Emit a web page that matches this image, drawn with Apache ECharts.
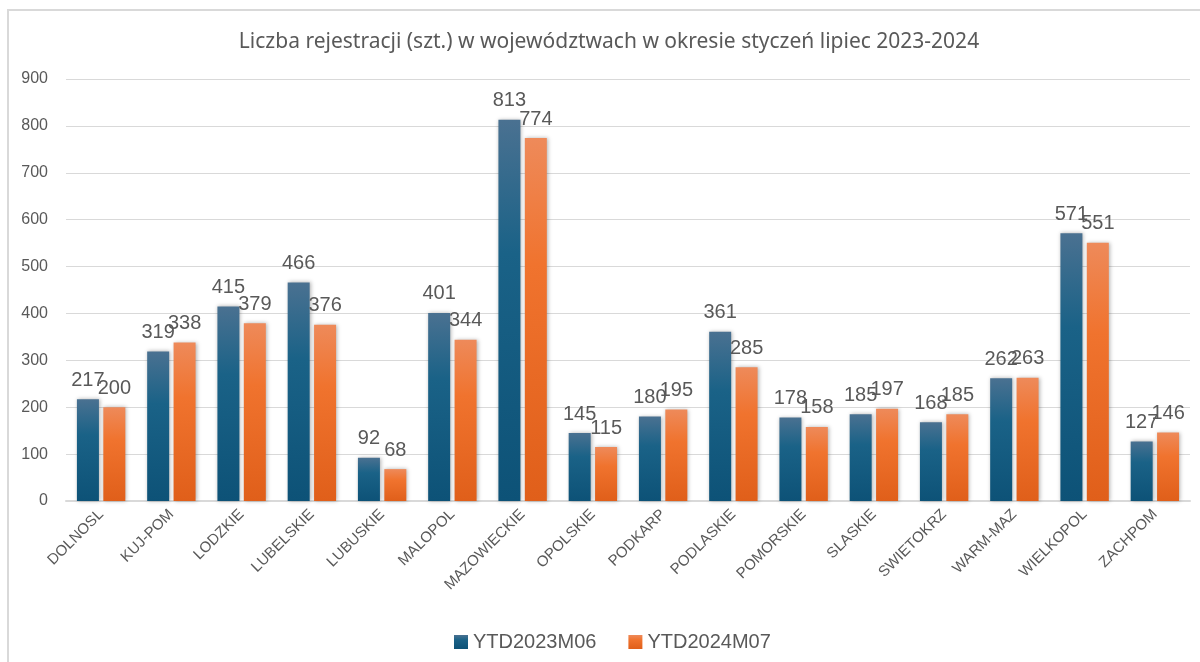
<!DOCTYPE html>
<html>
<head>
<meta charset="utf-8">
<script src="https://cdn.jsdelivr.net/npm/echarts@6/dist/echarts.min.js"></script>
<style>
  html, body { margin: 0; padding: 0; background: #fff; }
  #chart { width: 1200px; height: 662px; }
</style>
</head>
<body>
<div id="chart"></div>
<script>
// województwa
const categories = ['DOLNOSL', 'KUJ-POM', 'LODZKIE', 'LUBELSKIE', 'LUBUSKIE', 'MALOPOL', 'MAZOWIECKIE', 'OPOLSKIE',
  'PODKARP', 'PODLASKIE', 'POMORSKIE', 'SLASKIE', 'SWIETOKRZ', 'WARM-MAZ', 'WIELKOPOL', 'ZACHPOM'];
const ytd2023 = [217, 319, 415, 466, 92, 401, 813, 145, 180, 361, 178, 185, 168, 262, 571, 127];
const ytd2024 = [200, 338, 379, 376, 68, 344, 774, 115, 195, 285, 158, 197, 185, 263, 551, 146];
const seriesNames = ['YTD2023M06', 'YTD2024M07'];

const textColor = '#595959';

// gradient like the excel bars
const blueFill = new echarts.graphic.LinearGradient(0, 0, 0, 1, [
  { offset: 0, color: '#4a7191' },
  { offset: 0.35, color: '#1a6287' },
  { offset: 1, color: '#0d5277' }
]);
const orangeFill = new echarts.graphic.LinearGradient(0, 0, 0, 1, [
  { offset: 0, color: '#ee8a5a' },
  { offset: 0.35, color: '#f0732e' },
  { offset: 1, color: '#e05f1a' }
]);

const barLabel = {
  show: true,
  position: 'top',
  distance: 9,
  color: textColor,
  fontFamily: 'Liberation Sans',
  fontSize: 20
};

let mychart = echarts.init(document.getElementById('chart'));
mychart.setOption({
  animation: false,
  title: {
    text: 'Liczba rejestracji (szt.) w województwach w okresie styczeń lipiec 2023-2024',
    left: 604,
    textAlign: 'center',
    top: 27,
    textStyle: { color: textColor, fontFamily: 'Noto Sans', fontSize: 21, fontWeight: 'normal' }
  },
  graphic: [{
    type: 'rect',
    shape: { x: 8, y: 10, width: 1200, height: 660 },
    style: { fill: 'none', stroke: '#d9d9d9', lineWidth: 2 },
    silent: true
  }],
  legend: {
    data: seriesNames,
    left: 449,
    top: 627,
    itemWidth: 14,
    itemHeight: 14,
    itemGap: 32,
    icon: 'rect',
    textStyle: { color: textColor, fontFamily: 'Liberation Sans', fontSize: 20 }
  },
  grid: { left: 66, right: 10, top: 79, bottom: 161 },
  xAxis: {
    type: 'category',
    data: categories,
    axisTick: { show: false },
    axisLine: { lineStyle: { color: '#d9d9d9', width: 2 } },
    axisLabel: {
      rotate: 45,
      margin: 11,
      interval: 0,
      color: textColor,
      fontFamily: 'Liberation Sans',
      fontSize: 15
    }
  },
  yAxis: {
    type: 'value',
    min: 0,
    max: 900,
    interval: 100,
    axisLine: { show: false },
    axisTick: { show: false },
    splitLine: { lineStyle: { color: '#d9d9d9' } },
    axisLabel: { margin: 18, color: textColor, fontFamily: 'Liberation Sans', fontSize: 16 }
  },
  series: [
    {
      name: seriesNames[0],
      type: 'bar',
      data: ytd2023,
      barWidth: 22,
      barGap: '20%',
      itemStyle: { color: blueFill, shadowBlur: 4, shadowColor: 'rgba(0,0,0,0.3)', shadowOffsetX: 1 },
      label: barLabel
    },
    {
      name: seriesNames[1],
      type: 'bar',
      data: ytd2024,
      barWidth: 22,
      itemStyle: { color: orangeFill, shadowBlur: 4, shadowColor: 'rgba(0,0,0,0.3)', shadowOffsetX: 1 },
      label: barLabel
    }
  ]
});
</script>
</body>
</html>
